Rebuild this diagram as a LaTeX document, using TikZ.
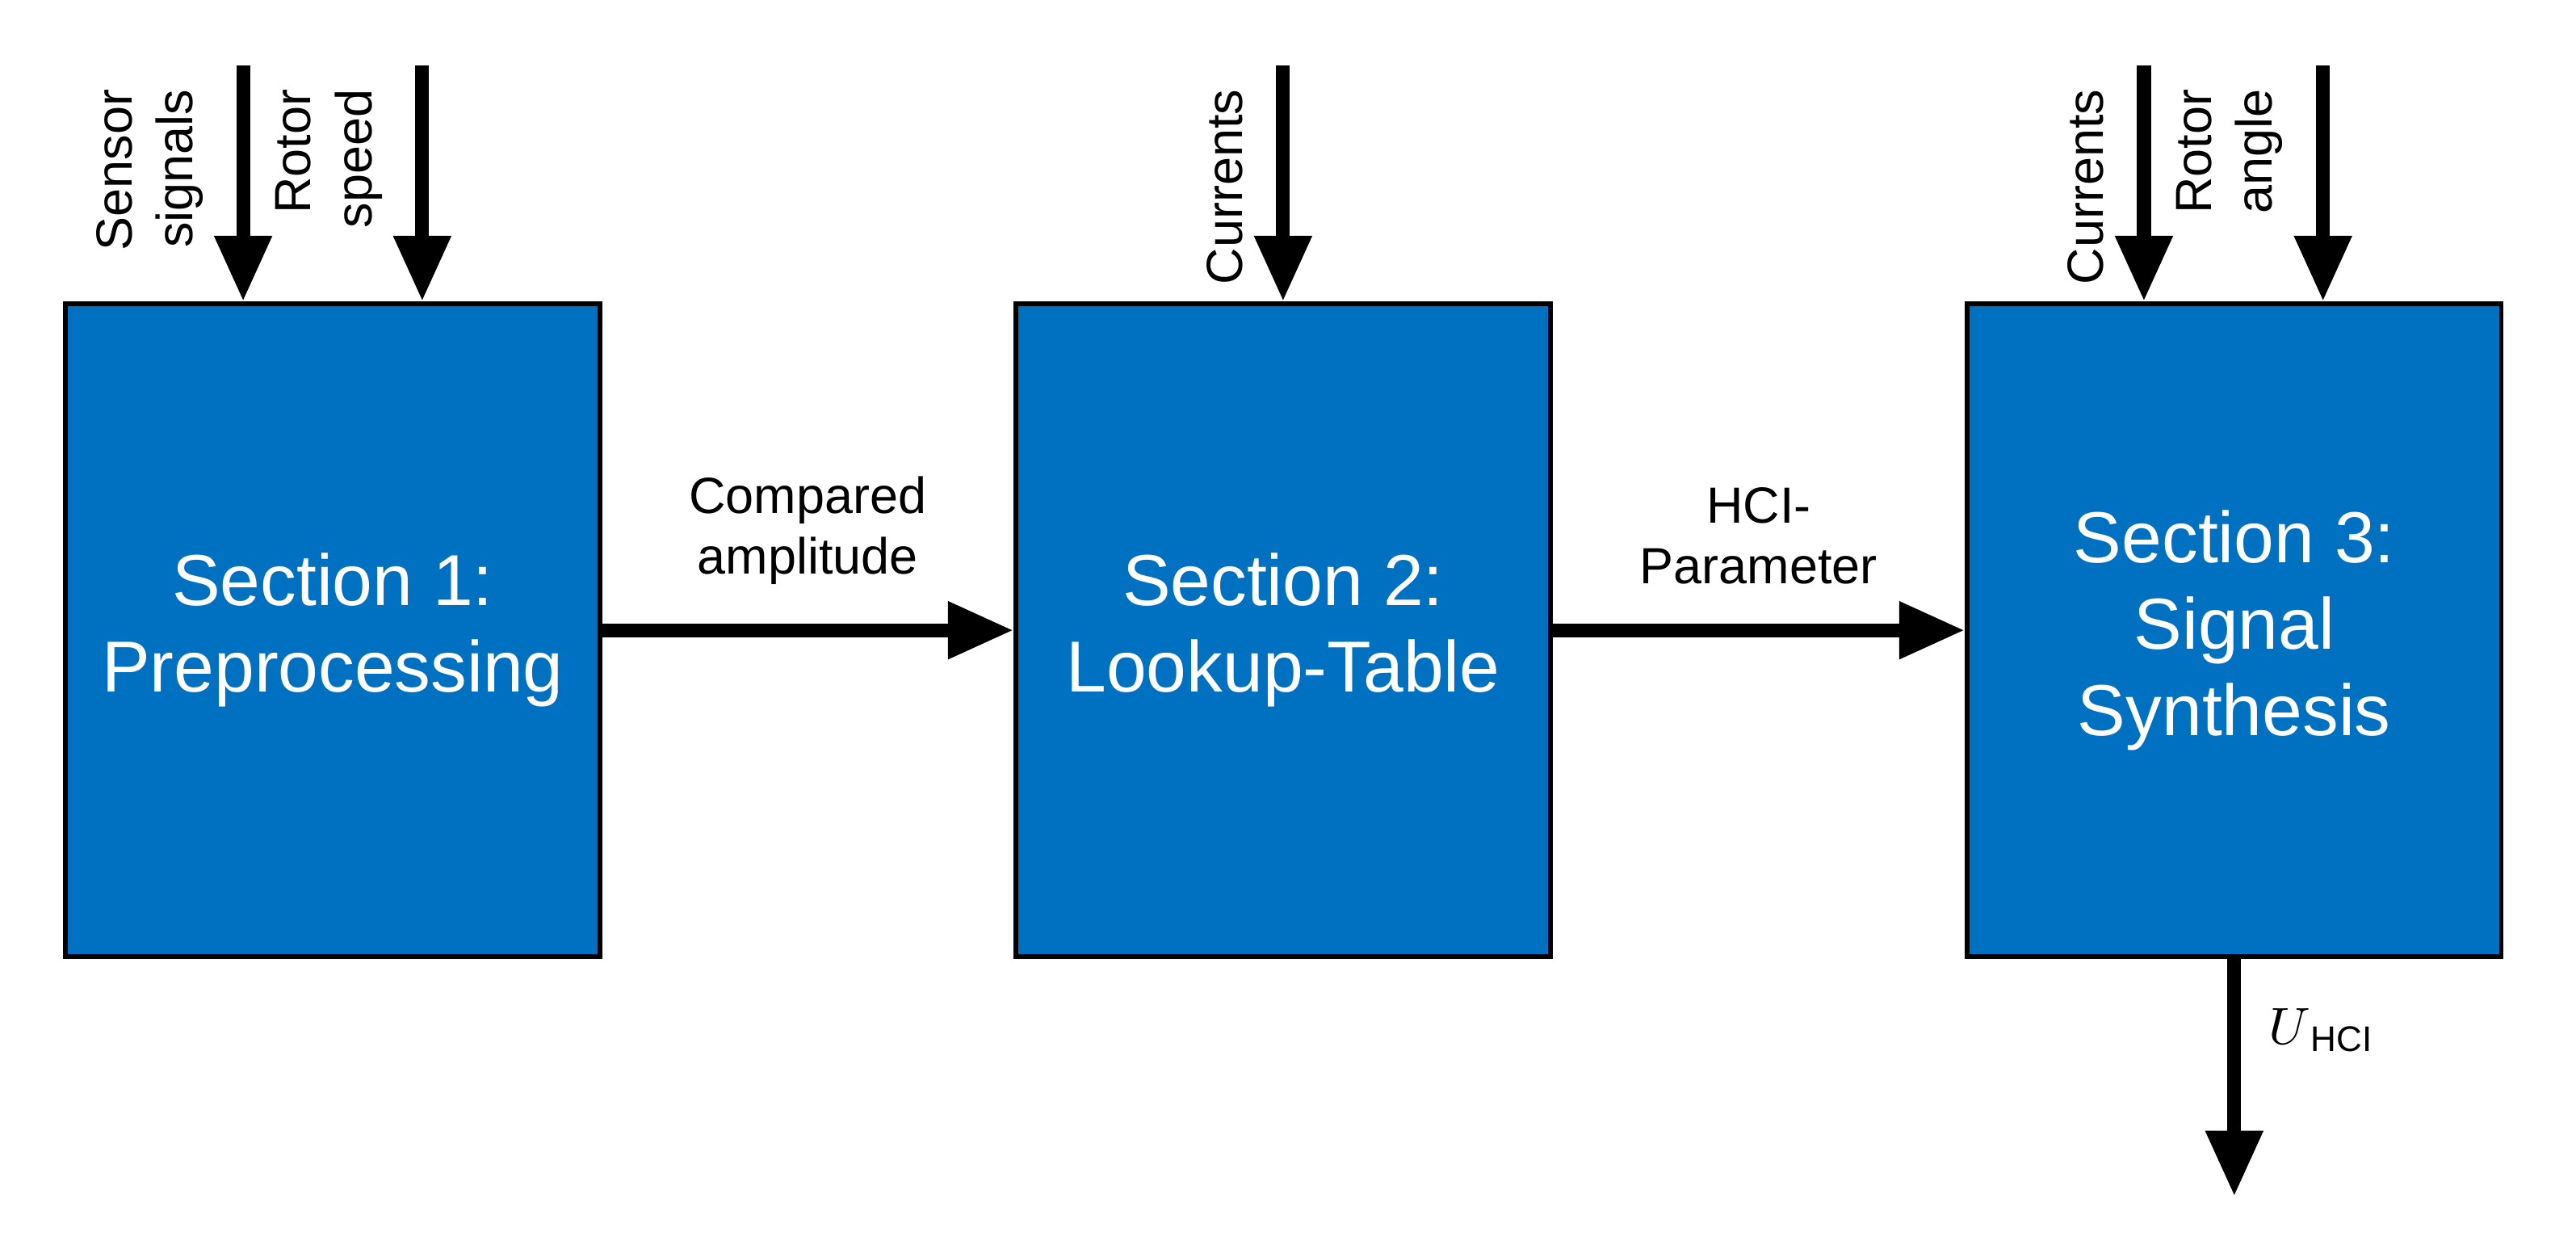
\documentclass[tikz,border=0pt]{standalone}
\usepackage{fontspec}
\setmainfont{Liberation Sans}
\usetikzlibrary{positioning,arrows.meta}
\definecolor{secblue}{HTML}{0070C0}
\tikzset{
  section/.style={draw=black,fill=secblue,line width=0.8pt,minimum width=3.25cm,minimum height=3.97cm,
    text=white,font=\fontsize{12.5}{15}\selectfont,align=center},
  flow/.style={line width=2.4pt,-{Triangle[width=0.33cm,length=0.4cm]}},
  inlabel/.style={rotate=90,anchor=south east,align=right,font=\fontsize{8.8}{10.5}\selectfont},
  lbl/.style={font=\fontsize{8.8}{10.5}\selectfont,align=center}
}
\begin{document}
\begin{tikzpicture}[x=0.01cm,y=-0.01cm]
    \useasboundingbox (0,0) rectangle (1568,752);
    % sections
    \node [section] (prep) at (202.5,383.5) {Section 1:\\Preprocessing};
    \node [section] (lut) at (781,383.5) {Section 2:\\Lookup-Table};
    \node [section] (synth) at (1360,383.5) {Section 3:\\Signal\\Synthesis};
    % inputs
    \coordinate (sens) at (148,40);
    \coordinate (speed) at (257,40);
    \coordinate (cur2) at (781,40);
    \coordinate (cur3) at (1305,40);
    \coordinate (angle) at (1414,40);
    \coordinate (out) at (1360,728);
    \draw [flow] (sens) -- (sens |- prep.north);
    \draw [flow] (speed) -- (speed |- prep.north);
    \draw [flow] (cur2) -- (cur2 |- lut.north);
    \draw [flow] (cur3) -- (cur3 |- synth.north);
    \draw [flow] (angle) -- (angle |- synth.north);
    \node [inlabel] at (136,42) {Sensor\\signals};
    \node [inlabel] at (245,42) {Rotor\\speed};
    \node [inlabel] at (769,42) {Currents};
    \node [inlabel] at (1293,42) {Currents};
    \node [inlabel] at (1402,42) {Rotor\\angle};
    % flow between sections
    \draw [flow] (prep) -- (lut) node [lbl,midway,above=0.12cm] {Compared\\amplitude};
    \draw [flow] (lut) -- (synth) node [lbl,midway,above=0.12cm] {HCI-\\Parameter};
    % output
    \draw [flow] (synth) -- (out) node [lbl,pos=0.3,right=0.05cm] {$U$\textsubscript{HCI}};
\end{tikzpicture}
\end{document}
